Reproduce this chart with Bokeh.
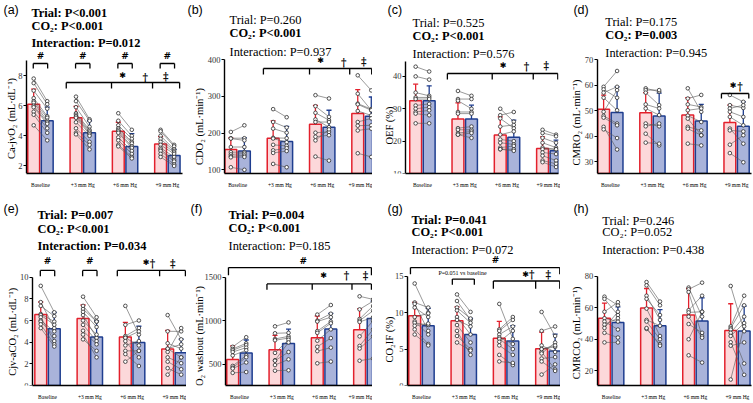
import math
from bokeh.plotting import figure
from bokeh.models import Label, FixedTicker
from bokeh.layouts import row, column
from bokeh.embed import file_html
from bokeh.resources import INLINE

conditions = ["Baseline", "+3 mm Hg", "+6 mm Hg", "+9 mm Hg"]

# ---------------- (a) Ca-jvO2 ----------------
a_red_mean = [6.1, 5.2, 4.3, 3.45]
a_red_sd = [1.0, 0.75, 0.6, 0.5]
a_blue_mean = [5.0, 4.2, 3.3, 2.7]
a_blue_sd = [0.9, 0.8, 0.85, 0.4]
a_red_pts = [[7.8, 7.5, 7.0, 6.5, 6.3, 6.2, 6.0, 5.9, 5.6, 5.4, 4.7],
             [6.6, 6.3, 5.9, 5.5, 5.4, 5.3, 5.2, 4.9, 4.5, 4.2, 4.1],
             [5.5, 5.0, 4.7, 4.5, 4.4, 4.3, 4.2, 3.9, 3.7, 3.4, 3.3],
             [4.4, 4.3, 4.0, 3.8, 3.6, 3.4, 3.2, 3.1, 3.0, 2.8, 2.6]]
a_blue_pts = [[6.3, 6.1, 5.8, 5.3, 5.2, 5.0, 4.9, 4.8, 4.5, 4.2, 3.7],
              [5.1, 5.0, 4.6, 4.4, 4.3, 4.2, 4.1, 4.0, 3.6, 3.4, 3.1],
              [4.4, 4.0, 3.8, 3.6, 3.5, 3.3, 3.2, 3.0, 2.8, 2.6, 2.5],
              [3.4, 3.3, 3.1, 3.0, 2.9, 2.8, 2.6, 2.4, 2.3, 2.1, 2.0]]

# ---------------- (b) CDO2 ----------------
b_red_mean = [155, 186, 224, 253]
b_red_sd = [32, 47, 51, 65]
b_blue_mean = [151, 177, 216, 246]
b_blue_sd = [36, 41, 46, 52]
b_red_pts = [[203, 186, 185, 162, 148, 142, 137, 134, 107],
             [265, 230, 212, 187, 185, 168, 153, 146, 116],
             [303, 273, 255, 237, 230, 201, 190, 180, 136],
             [357, 307, 280, 278, 260, 230, 220, 207, 145]]
b_blue_pts = [[221, 186, 180, 162, 148, 144, 139, 135, 100],
              [243, 215, 201, 186, 175, 165, 159, 151, 107],
              [294, 244, 235, 216, 230, 203, 194, 210, 125],
              [316, 262, 265, 262, 248, 240, 221, 212, 135]]

# ---------------- (c) OEF ----------------
c_red_mean = [32.5, 26.8, 21.9, 17.7]
c_red_sd = [5.1, 5.0, 5.6, 3.6]
c_blue_mean = [32.5, 26.8, 21.2, 17.0]
c_blue_sd = [4.6, 4.3, 5.3, 3.3]
c_red_pts = [[43.0, 40.0, 35.0, 33.5, 33.0, 31.0, 30.0, 29.0, 28.5, 25.5],
             [35.5, 33.0, 32.5, 29.0, 28.5, 24.0, 23.5, 22.5, 22.0, 22.0],
             [30.0, 28.0, 27.0, 24.5, 22.0, 20.5, 19.5, 18.0, 17.5, 17.5],
             [23.5, 22.5, 21.0, 19.5, 18.0, 17.5, 16.5, 15.5, 14.0, 13.5]]
c_blue_pts = [[41.5, 39.0, 34.0, 33.5, 33.0, 31.5, 30.5, 29.5, 28.0, 25.5],
              [34.0, 33.0, 30.0, 29.0, 28.5, 24.5, 23.5, 23.0, 22.5, 21.0],
              [26.0, 29.0, 24.0, 25.0, 23.0, 20.0, 19.0, 18.5, 17.5, 17.0],
              [22.0, 21.5, 19.5, 18.0, 17.5, 17.5, 16.0, 14.0, 13.0, 12.0]]

# ---------------- (d) CMRO2 ----------------
d_red_mean = [50.5, 49.1, 48.2, 45.3]
d_red_sd = [5.5, 7.9, 6.8, 6.8]
d_blue_mean = [49.2, 47.8, 45.9, 43.8]
d_blue_sd = [10.1, 9.0, 6.5, 9.6]
d_red_pts = [[59.3, 58.3, 57.0, 55.0, 49.5, 47.9, 47.2, 43.6, 42.6],
             [58.7, 58.0, 57.0, 52.4, 50.8, 44.9, 43.8, 40.9, 37.4],
             [58.7, 54.7, 52.4, 50.1, 48.0, 46.8, 43.6, 42.9, 37.0],
             [56.1, 52.1, 50.8, 49.5, 47.5, 42.9, 42.2, 36.6, 33.3]]
d_blue_pts = [[65.5, 55.0, 59.3, 50.1, 58.0, 44.9, 44.2, 34.7, 39.2],
              [57.4, 58.0, 52.1, 50.8, 48.2, 43.8, 44.9, 36.3, 37.0],
              [49.5, 56.1, 51.4, 50.8, 45.5, 40.3, 42.2, 40.3, 36.3],
              [53.4, 51.0, 52.1, 47.5, 44.2, 37.0, 41.8, 40.3, 29.7]]

# ---------------- (e) Cjv-aCO2 ----------------
e_red_mean = [6.56, 6.18, 4.47, 3.38]
e_red_sd = [1.15, 1.25, 1.35, 1.7]
e_blue_mean = [5.24, 4.47, 3.97, 3.03]
e_blue_sd = [1.5, 1.5, 1.5, 1.25]
e_red_pts = [[9.2, 7.7, 7.35, 6.6, 6.5, 6.3, 6.0, 5.9, 5.65, 5.3],
             [8.2, 7.35, 7.06, 6.8, 6.5, 6.0, 5.6, 5.06, 4.7, 4.26],
             [7.35, 5.6, 4.56, 4.4, 4.4, 4.1, 3.7, 3.2, 2.9, 2.2],
             [6.5, 5.0, 3.9, 3.4, 3.1, 3.4, 2.6, 2.2, 1.6, 1.0]]
e_blue_pts = [[6.76, 5.3, 6.4, 5.9, 5.6, 4.1, 5.0, 4.56, 3.8, 3.6],
              [6.3, 5.9, 5.9, 5.4, 4.4, 4.7, 4.1, 3.8, 2.6, 3.2],
              [4.7, 6.0, 5.3, 3.7, 5.0, 2.6, 4.1, 3.2, 1.8, 3.2],
              [4.26, 5.0, 3.4, 3.8, 5.3, 2.6, 2.06, 1.5, 1.0, 2.6]]

# ---------------- (f) CO2 washout ----------------
f_red_mean = [555, 665, 804, 896]
f_red_sd = [155, 165, 250, 240]
f_blue_mean = [628, 738, 903, 1024]
f_blue_sd = [150, 165, 180, 200]
f_red_pts = [[700, 675, 660, 640, 600, 480, 460, 450, 400],
             [935, 855, 790, 775, 630, 545, 540, 490, 425],
             [1070, 1000, 990, 880, 860, 770, 700, 650, 510],
             [1280, 1130, 1020, 1000, 985, 820, 710, 680, 540]]
f_blue_pts = [[810, 740, 720, 690, 660, 600, 580, 520, 410],
              [980, 860, 820, 800, 780, 750, 640, 555, 430],
              [1180, 1080, 1040, 990, 970, 900, 800, 690, 530],
              [1245, 1225, 1170, 1115, 1040, 1000, 900, 820, 565]]

# ---------------- (g) CO2IF ----------------
g_red_mean = [9.56, 8.9, 6.5, 5.04]
g_red_sd = [1.85, 1.9, 2.3, 2.3]
g_blue_mean = [8.2, 7.0, 6.1, 4.74]
g_blue_sd = [2.4, 2.2, 2.1, 2.3]
g_red_pts = [[14.0, 11.4, 11.2, 10.7, 9.4, 8.8, 8.6, 8.2, 7.7, 7.0],
             [12.5, 11.6, 10.7, 10.3, 9.4, 9.0, 8.3, 7.5, 6.8, 5.9],
             [11.2, 7.7, 7.0, 6.6, 6.4, 6.0, 5.5, 4.2, 3.3, 7.5],
             [10.1, 7.5, 5.5, 5.0, 4.6, 4.4, 3.7, 3.3, 1.5, 5.0]]
g_blue_pts = [[10.0, 10.7, 7.5, 9.4, 9.9, 7.0, 8.3, 8.5, 5.7, 5.5],
              [10.1, 9.0, 9.2, 8.6, 7.0, 8.1, 5.9, 4.2, 5.0, 4.8],
              [6.4, 9.4, 8.1, 5.7, 5.0, 7.5, 4.2, 2.8, 3.1, 9.0],
              [6.8, 8.1, 4.6, 5.3, 2.2, 5.9, 3.9, 2.0, 2.9, 5.5]]

# ---------------- (h) CMRCO2 ----------------
h_red_mean = [53.3, 59.8, 55.3, 45.5]
h_red_sd = [9.6, 12.4, 16.9, 17.0]
h_blue_mean = [50.6, 48.5, 51.6, 45.1]
h_blue_sd = [9.9, 10.3, 14.6, 15.9]
h_red_pts = [[67.0, 65.6, 57.4, 53.3, 51.2, 49.2, 47.1, 44.0, 37.9],
             [76.3, 74.2, 67.6, 65.6, 59.4, 52.2, 51.2, 46.5, 47.0],
             [72.8, 71.7, 70.0, 58.4, 57.0, 54.3, 49.6, 39.9, 29.7],
             [73.8, 48.1, 47.0, 46.1, 44.0, 42.0, 38.0, 35.8, 14.3]]
h_blue_pts = [[61.5, 55.3, 63.5, 51.2, 46.1, 53.3, 57.4, 41.0, 37.9],
              [63.9, 61.5, 52.2, 55.3, 42.0, 48.5, 39.9, 36.8, 35.8],
              [54.3, 75.9, 42.0, 67.6, 57.4, 40.9, 44.0, 57.4, 25.1],
              [45.0, 67.6, 61.5, 24.5, 54.3, 50.2, 17.3, 37.9, 48.1]]

# ---------------- texts ----------------
a_stats = [("Trial: P<0.001", True), ("CO₂: P<0.001", True), ("Interaction: P=0.012", True)]
b_stats = [("Trial: P=0.260", False), ("CO₂: P<0.001", True), ("Interaction: P=0.937", False)]
c_stats = [("Trial: P=0.525", False), ("CO₂: P<0.001", True), ("Interaction: P=0.576", False)]
d_stats = [("Trial: P=0.175", False), ("CO₂: P=0.003", True), ("Interaction: P=0.945", False)]
e_stats = [("Trial: P=0.007", True), ("CO₂: P<0.001", True), ("Interaction: P=0.034", True)]
f_stats = [("Trial: P=0.004", True), ("CO₂: P<0.001", True), ("Interaction: P=0.185", False)]
g_stats = [("Trial: P=0.041", True), ("CO₂: P<0.001", True), ("Interaction: P=0.072", False)]
h_stats = [("Trial: P=0.246", False), ("CO₂: P=0.052", False), ("Interaction: P=0.438", False)]

RED, RED_FILL = "#e3202c", "#fcd8da"
BLUE, BLUE_FILL = "#1e3d8f", "#a9b3da"
SERIF = "Liberation Serif"


def small(g):
    return dict(x0=g - 0.17, x1=g + 0.17, ticks=[g - 0.17, g + 0.17])


panels = [
    dict(letter="(a)", ylabel="Ca-jvO₂ (mL·dL⁻¹)", ylim=(1.5, 9), yticks=[2, 4, 6, 8],
         rm=a_red_mean, rs=a_red_sd, bm=a_blue_mean, bs=a_blue_sd, rp=a_red_pts, bp=a_blue_pts, stats=a_stats,
         axis_x=26, frame_end=182, axis_top=60, axis_bottom=173, xstart=-0.33,
         stat_x=31, stat_y=[12, 25, 42], letter_xy=(3, 9), ylab_xy=(11, 118),
         brackets=[dict(small(0), y=63, drop=68), dict(small(1), y=63, drop=68),
                   dict(small(2), y=63, drop=68), dict(small(3), y=63, drop=68),
                   dict(x0=0.61, x1=3.29, y=82, drop=88, ticks=[0.61, 1.68, 2.65, 3.29])],
         symbols=[("#", 0, 55), ("#", 1, 55), ("#", 2, 55), ("#", 3, 55),
                  ("✱", 1.94, 75), ("†", 2.48, 76), ("‡", 2.96, 75)]),
    dict(letter="(b)", ylabel="CDO₂ (mL·min⁻¹)", ylim=(90, 400), yticks=[100, 200, 300, 400],
         rm=b_red_mean, rs=b_red_sd, bm=b_blue_mean, bs=b_blue_sd, rp=b_red_pts, bp=b_blue_pts, stats=b_stats,
         axis_x=38, frame_end=186, axis_top=59, axis_bottom=173, xstart=-0.31,
         stat_x=43, stat_y=[19, 32, 51], letter_xy=(1, 9), ylab_xy=(13, 126),
         brackets=[dict(x0=0.61, x1=3.17, y=68, drop=74, ticks=[0.61, 1.70, 2.65, 3.17])],
         symbols=[("✱", 1.96, 60), ("†", 2.51, 61), ("‡", 2.98, 60)]),
    dict(letter="(c)", ylabel="OEF (%)", ylim=(10, 44.6), yticks=[10, 20, 30, 40],
         rm=c_red_mean, rs=c_red_sd, bm=c_blue_mean, bs=c_blue_sd, rp=c_red_pts, bp=c_blue_pts, stats=c_stats,
         axis_x=33, frame_end=186, axis_top=61, axis_bottom=173, xstart=-0.40,
         stat_x=40, stat_y=[22, 35, 53], letter_xy=(15, 9), ylab_xy=(17, 125),
         brackets=[dict(x0=0.59, x1=3.2, y=73, drop=79, ticks=[0.59, 1.65, 2.62, 3.2])],
         symbols=[("✱", 1.91, 65), ("†", 2.46, 65), ("‡", 2.93, 64)]),
    dict(letter="(d)", ylabel="CMRO₂ (mL·min⁻¹)", ylim=(25.3, 70), yticks=[30, 40, 50, 60, 70],
         rm=d_red_mean, rs=d_red_sd, bm=d_blue_mean, bs=d_blue_sd, rp=d_red_pts, bp=d_blue_pts, stats=d_stats,
         axis_x=37, frame_end=192, axis_top=59, axis_bottom=173, xstart=-0.31,
         stat_x=45, stat_y=[21, 34, 52], letter_xy=(13, 9), ylab_xy=(16, 122),
         brackets=[dict(x0=2.64, x1=3.29, y=93, drop=98, ticks=[2.64, 3.29])],
         symbols=[("✱", 2.92, 85), ("†", 3.08, 85)]),
    dict(letter="(e)", ylabel="Cjv-aCO₂ (mL·dL⁻¹)", ylim=(0, 10), yticks=[0, 2, 4, 6, 8, 10],
         rm=e_red_mean, rs=e_red_sd, bm=e_blue_mean, bs=e_blue_sd, rp=e_red_pts, bp=e_blue_pts, stats=e_stats,
         axis_x=32, frame_end=186, axis_top=80, axis_bottom=193, xstart=-0.355,
         stat_x=37, stat_y=[15, 30, 47], letter_xy=(3, 9), ylab_xy=(12, 137),
         brackets=[dict(small(0), y=73, drop=79), dict(small(1), y=73, drop=79),
                   dict(x0=1.65, x1=3.26, y=73, drop=79, ticks=[1.65, 2.65, 3.26])],
         symbols=[("#", 0, 63), ("#", 1, 63), ("✱", 2.33, 65), ("†", 2.48, 65), ("‡", 2.96, 65)]),
    dict(letter="(f)", ylabel="CO₂ washout (mL·min⁻¹)", ylim=(255, 1500), yticks=[500, 1000, 1500],
         rm=f_red_mean, rs=f_red_sd, bm=f_blue_mean, bs=f_blue_sd, rp=f_red_pts, bp=f_blue_pts, stats=f_stats,
         axis_x=39, frame_end=186, axis_top=80, axis_bottom=193, xstart=-0.33,
         stat_x=42, stat_y=[15, 29, 47], letter_xy=(4, 9), ylab_xy=(13, 145),
         brackets=[dict(x0=-0.26, x1=3.12, y=70, drop=78, ticks=[-0.26, 3.12]),
                   dict(x0=0.65, x1=3.12, y=87, drop=93, ticks=[0.65, 1.72, 2.66, 3.12])],
         symbols=[("#", 1.51, 63), ("✱", 1.99, 78), ("†", 2.53, 78), ("‡", 2.98, 78)]),
    dict(letter="(g)", ylabel="CO₂IF (%)", ylim=(0, 15), yticks=[0, 5, 10, 15],
         rm=g_red_mean, rs=g_red_sd, bm=g_blue_mean, bs=g_blue_sd, rp=g_red_pts, bp=g_blue_pts, stats=g_stats,
         axis_x=35, frame_end=188, axis_top=79, axis_bottom=193, xstart=-0.33,
         stat_x=39, stat_y=[20, 33, 52], letter_xy=(15, 9), ylab_xy=(17, 145),
         brackets=[dict(x0=-0.26, x1=3.27, y=70, drop=77, ticks=[-0.26, 3.27]),
                   dict(x0=0.73, x1=1.25, y=82, drop=88, ticks=[0.73, 1.25]),
                   dict(x0=1.70, x1=3.27, y=84, drop=92, ticks=[1.70, 2.70, 3.27])],
         symbols=[("#", 1.75, 62), ("✱", 2.46, 77), ("†", 2.61, 77), ("‡", 3.0, 77)],
         note=("P=0.051 vs baseline", 0.97, 76)),
    dict(letter="(h)", ylabel="CMRCO₂ (mL·min⁻¹)", ylim=(10.5, 80), yticks=[20, 40, 60, 80],
         rm=h_red_mean, rs=h_red_sd, bm=h_blue_mean, bs=h_blue_sd, rp=h_red_pts, bp=h_blue_pts, stats=h_stats,
         axis_x=37, frame_end=192, axis_top=79, axis_bottom=193, xstart=-0.33,
         stat_x=42, stat_y=[21, 33, 52], letter_xy=(13, 9), ylab_xy=(16, 138),
         brackets=[], symbols=[]),
]

FIG_W = [186, 186, 188, 192]
REF_W = [186, 186, 188, 193]
FIG_H = [200, 202]
REF_H = [200, 203]
SPACING = 42.3
OFF, BW, CAP = 0.16, 0.28, 0.06


def build(pd, W, H, ref_w, ref_h):
    sx, sy = W / ref_w, H / ref_h
    lo, hi = pd["ylim"]
    yt, yb = pd["axis_top"], pd["axis_bottom"]
    per_px = (hi - lo) / (yb - yt)
    yend = lo + yb * per_px
    R = max(0, round((ref_w - pd["frame_end"]) * sx))
    B = H - round(yb * sy)
    x_axis_pos = pd["xstart"]
    x0 = x_axis_pos - pd["axis_x"] / SPACING
    x1 = x_axis_pos + (pd["frame_end"] - pd["axis_x"]) / SPACING

    def Y(py):
        return lo + (yb - py) * per_px

    def X(px):
        return x0 + px / SPACING

    p = figure(width=W, height=H, x_range=(x0, x1), y_range=(lo, yend),
               min_border_left=0, min_border_right=R, min_border_top=0, min_border_bottom=B,
               toolbar_location=None, output_backend="svg", tools="")
    p.outline_line_color = None
    p.xgrid.visible = False
    p.ygrid.visible = False

    xa = p.xaxis[0]
    xa.ticker = FixedTicker(ticks=[0, 1, 2, 3])
    xa.major_label_overrides = {i: c for i, c in enumerate(conditions)}
    xa.bounds = (x_axis_pos, x1)
    xa.major_label_text_font = SERIF
    xa.major_label_text_font_size = "5.5px"
    xa.major_label_text_color = "black"
    xa.major_label_standoff = 2
    xa.major_tick_line_color = None
    xa.minor_tick_line_color = None
    xa.axis_line_width = 1.4
    xa.axis_line_color = "black"

    ya = p.yaxis[0]
    ya.fixed_location = x_axis_pos
    ya.ticker = FixedTicker(ticks=pd["yticks"], minor_ticks=[])
    ya.bounds = (lo, hi)
    ya.major_label_text_font = SERIF
    ya.major_label_text_font_size = "8.5px"
    ya.major_label_text_color = "#333333"
    ya.major_label_standoff = 1
    ya.major_tick_out = 3
    ya.major_tick_in = 0
    ya.major_tick_line_width = 1.2
    ya.axis_line_width = 1.4
    ya.axis_line_color = "black"

    groups = list(range(len(conditions)))
    xr = [g - OFF for g in groups]
    xb = [g + OFF for g in groups]

    p.vbar(x=xr, top=pd["rm"], bottom=lo, width=BW, fill_color=RED_FILL, line_color=RED, line_width=1.5)
    p.vbar(x=xb, top=pd["bm"], bottom=lo, width=BW, fill_color=BLUE_FILL, line_color=BLUE, line_width=1.5)

    for xx, mm, ss, col in ((xr, pd["rm"], pd["rs"], RED), (xb, pd["bm"], pd["bs"], BLUE)):
        tops = [m + s for m, s in zip(mm, ss)]
        p.segment(x0=xx, y0=mm, x1=xx, y1=tops, line_color=col, line_width=1.3)
        p.segment(x0=[x - CAP for x in xx], y0=tops, x1=[x + CAP for x in xx], y1=tops,
                  line_color=col, line_width=1.3)

    lx0, ly0, lx1, ly1 = [], [], [], []
    px, py = [], []
    for g in groups:
        for rv, bv in zip(pd["rp"][g], pd["bp"][g]):
            lx0.append(xr[g]); ly0.append(rv); lx1.append(xb[g]); ly1.append(bv)
            px += [xr[g], xb[g]]; py += [rv, bv]
    p.segment(x0=lx0, y0=ly0, x1=lx1, y1=ly1, line_color="#555555", line_width=0.6)
    p.scatter(x=px, y=py, size=3.6, marker="circle", fill_color="white",
              line_color="#2a2a2a", line_width=0.8)

    # significance brackets
    bx0, by0, bx1, by1 = [], [], [], []
    for br in pd["brackets"]:
        yy, dd = Y(br["y"]), Y(br["drop"])
        bx0.append(br["x0"]); by0.append(yy); bx1.append(br["x1"]); by1.append(yy)
        for t in br["ticks"]:
            bx0.append(t); by0.append(yy); bx1.append(t); by1.append(dd)
    if bx0:
        p.segment(x0=bx0, y0=by0, x1=bx1, y1=by1, line_color="black", line_width=1.3)
    for sym, ux, uy in pd["symbols"]:
        if sym == "✱":
            font, size = "DejaVu Sans", 8
        elif sym == "#":
            font, size = "DejaVu Serif", 9
        else:
            font, size = "DejaVu Serif", 10.5
        p.add_layout(Label(x=ux, y=Y(uy), text=sym, text_font=font, text_font_size=f"{size}px",
                           text_font_style="bold", text_align="center", text_baseline="middle",
                           text_color="black"))
    if "note" in pd:
        t, ux, uy = pd["note"]
        p.add_layout(Label(x=ux, y=Y(uy), text=t, text_font=SERIF, text_font_size="6px",
                           text_align="center", text_baseline="middle", text_color="black"))

    # panel letter
    lx, ly = pd["letter_xy"]
    p.add_layout(Label(x=X(lx), y=Y(ly), text=pd["letter"],
                       text_font="Liberation Sans", text_font_size="12.5px",
                       text_align="left", text_baseline="middle", text_color="black"))
    # stats
    for (txt, bold), yy in zip(pd["stats"], pd["stat_y"]):
        p.add_layout(Label(x=X(pd["stat_x"]), y=Y(yy), text=txt,
                           text_font=SERIF, text_font_size="12.4px",
                           text_font_style="bold" if bold else "normal",
                           text_align="left", text_baseline="middle", text_color="black"))
    # y label
    gx, gy = pd["ylab_xy"]
    p.add_layout(Label(x=X(gx), y=Y(gy), text=pd["ylabel"],
                       angle=math.pi / 2, angle_units="rad",
                       text_font=SERIF, text_font_size="10.5px",
                       text_align="center", text_baseline="middle", text_color="black"))
    return p


figs = []
for i, pd in enumerate(panels):
    r, c = divmod(i, 4)
    figs.append(build(pd, FIG_W[c], FIG_H[r], REF_W[c], REF_H[r]))

layout = column(row(*figs[:4]), row(*figs[4:]))

open("out.html", "w").write(file_html(layout, INLINE))
